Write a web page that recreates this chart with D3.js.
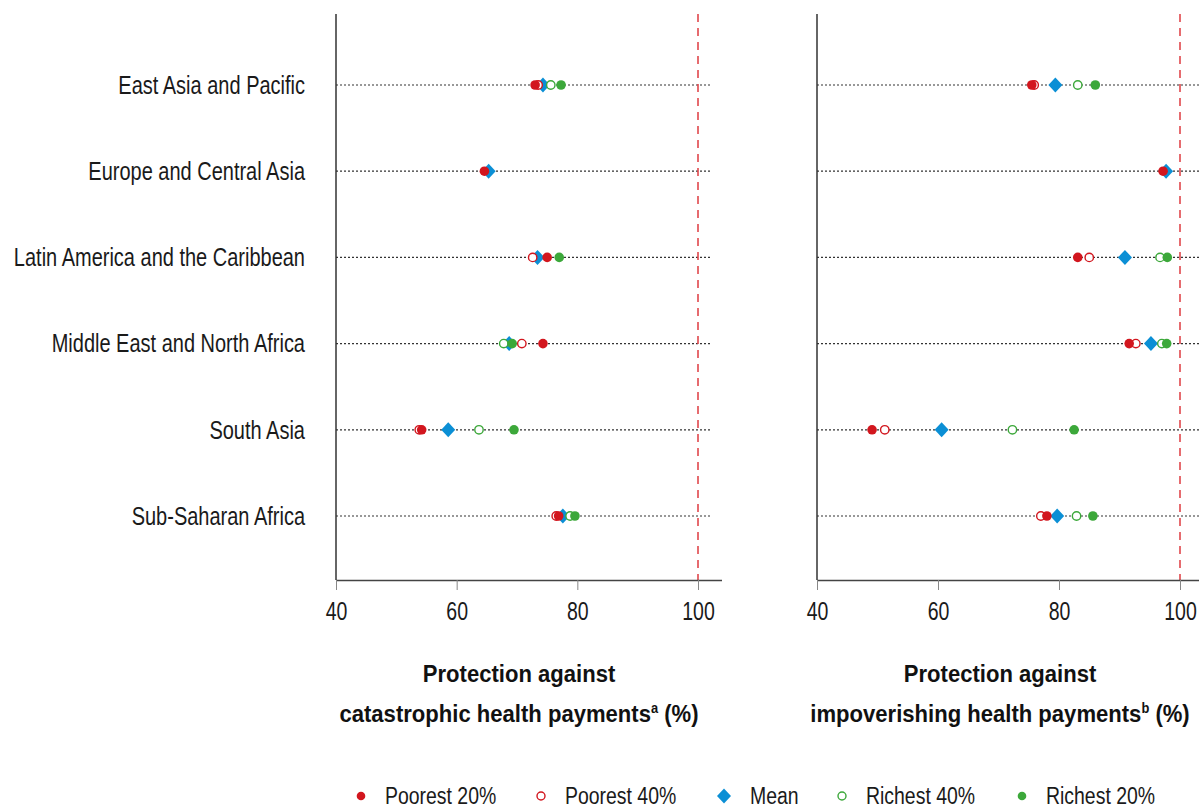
<!DOCTYPE html>
<html lang="en">
<head>
<meta charset="UTF-8" />
<title>Financial protection by region</title>
<script src="https://d3js.org/d3.v7.min.js"></script>
<style>
  body { margin: 0; background: #fff; }
  svg { font-family: "Liberation Sans", Arial, sans-serif; }
  .cat { font-size: 25px; fill: #1a1a1a; }
  .tick text { font-size: 25px; fill: #1a1a1a; }
  .title { font-size: 24px; font-weight: bold; fill: #111; }
  .leg { font-size: 24px; fill: #1a1a1a; }
</style>
</head>
<body>
<svg width="1199" height="811"></svg>
<script>
// Data
const regions = [
  "East Asia and Pacific",
  "Europe and Central Asia",
  "Latin America and the Caribbean",
  "Middle East and North Africa",
  "South Asia",
  "Sub-Saharan Africa"
];
const seriesNames = ["Poorest 20%", "Poorest 40%", "Mean", "Richest 40%", "Richest 20%"];
const ticks = [40, 60, 80, 100];

// catastrophic health payments (left)
const catPoorest20 = [73.0, 64.6, 75.0, 74.3, 54.2, 76.9];
const catPoorest40 = [73.5, null, 72.6, 70.8, 53.8, 76.5];
const catMean      = [74.3, 65.3, 73.4, 68.7, 58.6, 77.6];
const catRichest40 = [75.6, null, null, 67.8, 63.7, 78.8];
const catRichest20 = [77.3, null, 77.0, 69.2, 69.5, 79.6];

// impoverishing health payments (right)
const impPoorest20 = [75.5, 97.2, 83.1, 91.6, 49.1, 78.0];
const impPoorest40 = [75.9, null, 85.0, 92.7, 51.2, 77.0];
const impMean      = [79.4, 97.7, 90.9, 95.2, 60.6, 79.7];
const impRichest40 = [83.1, null, 96.7, 97.0, 72.3, 82.9];
const impRichest20 = [86.0, null, 97.9, 97.8, 82.5, 85.6];

const RED = "#d2161e", BLUE = "#0b8fd5", GREEN = "#3ca83a";
const styles = {
  "Poorest 20%": { color: RED, open: false },
  "Poorest 40%": { color: RED, open: true },
  "Mean": { color: BLUE, diamond: true },
  "Richest 40%": { color: GREEN, open: true },
  "Richest 20%": { color: GREEN, open: false }
};

// no condensed face installed, so squeeze text horizontally
const SX = 0.78, SX_CAT = 0.8, SX_TITLE = 0.92, SX_LEG = 0.81;
const svg = d3.select("svg");
const plotTop = 14, plotBottom = 580;

const y = d3.scalePoint().domain(regions).range([85, 516]);

function diamondPath(w, h) {
  return `M0,${-h}L${w},0L0,${h}L${-w},0Z`;
}

function drawMarker(g, name, cx, cy) {
  const s = styles[name];
  if (s.diamond) {
    g.append("path").attr("d", diamondPath(7, 7.5))
      .attr("transform", `translate(${cx},${cy})`).attr("fill", s.color);
  } else if (s.open) {
    g.append("circle").attr("cx", cx).attr("cy", cy).attr("r", 4.2)
      .attr("fill", "#fff").attr("stroke", s.color).attr("stroke-width", 1.4);
  } else {
    g.append("circle").attr("cx", cx).attr("cy", cy).attr("r", 4.8).attr("fill", s.color);
  }
}

function panel(x0, x1, xmax, lineEnd, series, title, sup, titleX) {
  const x = d3.scaleLinear().domain([40, 100]).range([x0, x1]);
  const g = svg.append("g");

  // dotted row lines
  g.selectAll(".row").data(regions).enter().append("line")
    .attr("x1", x(40)).attr("x2", lineEnd)
    .attr("y1", d => y(d)).attr("y2", d => y(d))
    .attr("stroke", "#333").attr("stroke-width", 1.2).attr("stroke-dasharray", "2,2");

  // 100% reference
  g.append("line").attr("x1", x(100)).attr("x2", x(100))
    .attr("y1", plotTop).attr("y2", plotBottom)
    .attr("stroke", "#e0474c").attr("stroke-width", 1.6).attr("stroke-dasharray", "8,6");

  // axes
  const ax = g.append("g").attr("transform", `translate(0,${plotBottom})`)
    .call(d3.axisBottom(x).tickValues(ticks).tickSize(10).tickPadding(12));
  ax.select(".domain").attr("d", `M${x0},0.5H${xmax}`).attr("stroke", "#444").attr("stroke-width", 1.4);
  ax.selectAll(".tick line").attr("stroke", "#888");
  ax.selectAll(".tick text").attr("font-family", null).attr("transform", `scale(${SX},1)`);
  g.append("line").attr("x1", x0).attr("x2", x0).attr("y1", plotTop).attr("y2", plotBottom)
    .attr("stroke", "#333").attr("stroke-width", 1.5);

  // markers
  const order = ["Mean", "Poorest 40%", "Poorest 20%", "Richest 40%", "Richest 20%"];
  order.forEach(name => {
    const vals = series[name];
    regions.forEach((r, i) => {
      if (vals[i] != null) drawMarker(g, name, x(vals[i]), y(r));
    });
  });

  // title
  const tg = g.append("g").attr("transform", `translate(${titleX},0) scale(${SX_TITLE},1)`);
  tg.append("text").attr("class", "title").attr("x", 0).attr("y", 682)
    .attr("text-anchor", "middle").text("Protection against");
  const t2 = tg.append("text").attr("class", "title").attr("x", 0).attr("y", 722)
    .attr("text-anchor", "middle");
  t2.append("tspan").text(title);
  t2.append("tspan").attr("font-size", "14px").attr("dy", -9).text(sup);
  t2.append("tspan").attr("dy", 9).text(" (%)");
}

panel(336, 698, 722, 712, {
  "Poorest 20%": catPoorest20, "Poorest 40%": catPoorest40, "Mean": catMean,
  "Richest 40%": catRichest40, "Richest 20%": catRichest20
}, "catastrophic health payments", "a", 519);

panel(817, 1180, 1199, 1199, {
  "Poorest 20%": impPoorest20, "Poorest 40%": impPoorest40, "Mean": impMean,
  "Richest 40%": impRichest40, "Richest 20%": impRichest20
}, "impoverishing health payments", "b", 1000);

// category labels
svg.selectAll(".catg").data(regions).enter().append("g")
  .attr("transform", d => `translate(305,${y(d)}) scale(${SX_CAT},1)`)
  .append("text").attr("class", "cat")
  .attr("dy", "0.35em").attr("text-anchor", "end").text(d => d);

// legend
const legX = [361, 541, 724, 842, 1022];
const legY = 796;
const leg = svg.append("g");
seriesNames.forEach((name, i) => {
  const cx = legX[i];
  const s = styles[name];
  if (s.diamond) {
    leg.append("path").attr("d", diamondPath(7, 7.5))
      .attr("transform", `translate(${cx},${legY})`).attr("fill", s.color);
  } else if (s.open) {
    leg.append("circle").attr("cx", cx).attr("cy", legY).attr("r", 4)
      .attr("fill", "#fff").attr("stroke", s.color).attr("stroke-width", 1.4);
  } else {
    leg.append("circle").attr("cx", cx).attr("cy", legY).attr("r", 4.3).attr("fill", s.color);
  }
  leg.append("g")
    .attr("transform", `translate(${cx + (s.diamond ? 26 : 24)},${legY}) scale(${SX_LEG},1)`)
    .append("text").attr("class", "leg").attr("dy", "0.34em").text(name);
});
</script>
</body>
</html>
